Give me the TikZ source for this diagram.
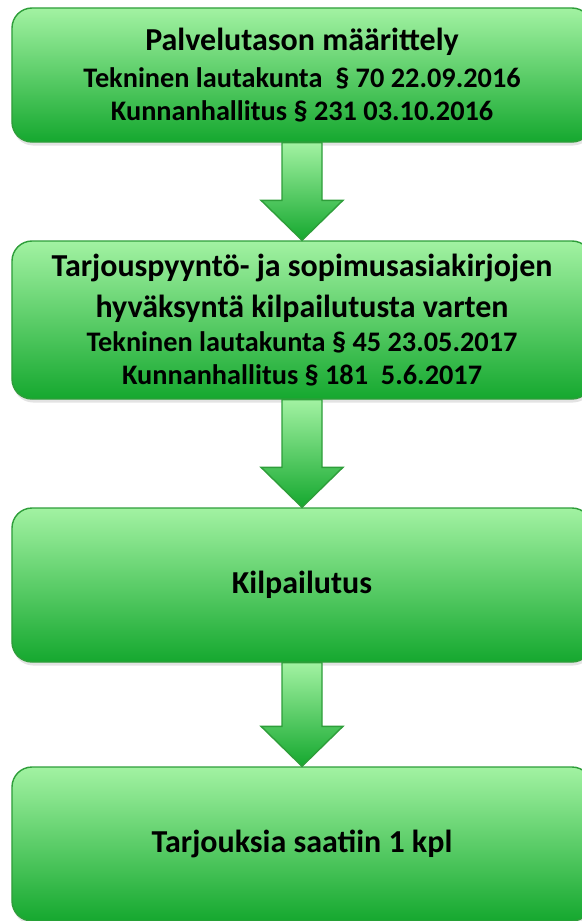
\documentclass[tikz,border=0pt]{standalone}
\usepackage{fontspec}
\setmainfont{Carlito}
\usepackage{tikz}
\usetikzlibrary{calc, shadows}

\definecolor{boxtop}{HTML}{A2F2A2}
\definecolor{boxmid}{HTML}{74D680}
\definecolor{boxbot}{HTML}{15A82F}
\definecolor{boxline}{HTML}{2E9E3A}

\newcommand\headtext{\fontsize{18.2}{20}\selectfont\bfseries}
\newcommand\subtext{\fontsize{16.1}{18.5}\selectfont\bfseries}

\begin{document}
\begin{tikzpicture}[stage box/.style={draw=boxline, line width=0.8pt, top color=boxtop, middle color=boxmid,
	bottom color=boxbot, rounded corners=0.4cm, minimum width=11.6cm, minimum height=#1, align=center,
	font=\subtext, drop shadow={shadow xshift=0.02cm, shadow yshift=-0.07cm, opacity=0.22}},
	stage box/.default=3.08cm,
	flow arrow/.style={draw=boxline, line width=0.8pt, top color=boxtop, bottom color=boxbot}]
	\useasboundingbox (0,0) rectangle (11.64,-18.42);
	
	\node [stage box=2.68cm] (service) at (6.04,-1.5) {{\headtext Palvelutason määrittely}\\[2.5pt]
		Tekninen lautakunta \ § 70 22.09.2016\\
		Kunnanhallitus § 231 03.10.2016};
	\node [stage box=3.16cm] (docs) at (6.04,-6.4) {{\headtext Tarjouspyyntö- ja sopimusasiakirjojen}\\[4.5pt]
		{\headtext hyväksyntä kilpailutusta varten}\\[1pt]
		Tekninen lautakunta § 45 23.05.2017\\
		Kunnanhallitus § 181 \ 5.6.2017};
	\node [stage box] (tender) at (6.04,-11.7) {\headtext Kilpailutus};
	\node [stage box] (offers) at (6.04,-16.88) {\headtext Tarjouksia saatiin 1 kpl};
	
	\foreach \from/\to in {service/docs, docs/tender, tender/offers}
		\draw [flow arrow] ($(\from.south)+(-0.4,0)$) -- ($(\to.north)+(-0.4,0.8)$) -- ($(\to.north)+(-0.82,0.8)$)
			-- (\to.north) -- ($(\to.north)+(0.82,0.8)$) -- ($(\to.north)+(0.4,0.8)$) -- ($(\from.south)+(0.4,0)$) -- cycle;
\end{tikzpicture}
\end{document}
